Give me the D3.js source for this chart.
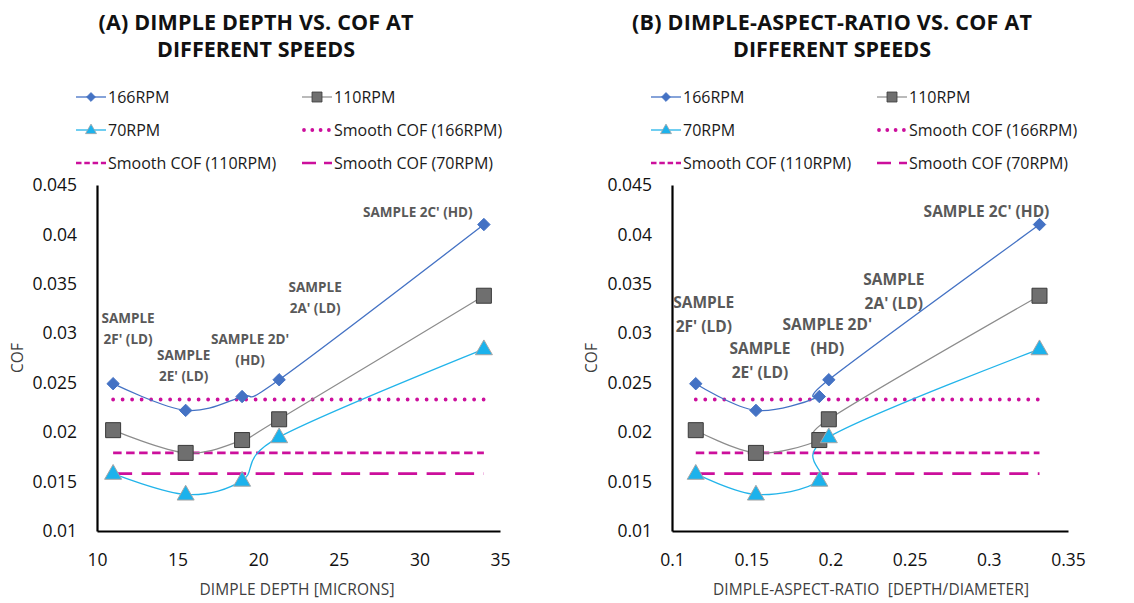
<!DOCTYPE html>
<html>
<head>
<meta charset="utf-8">
<script src="https://cdn.jsdelivr.net/npm/d3@7/dist/d3.min.js"></script>
<style>
  html, body { margin: 0; padding: 0; background: #fff; }
  svg { display: block; font-family: "Open Sans", "Noto Sans", sans-serif; }
</style>
</head>
<body>
<svg id="chart" width="1134" height="603"></svg>
<script>
// ---- data ----
const dimpleDepth = [11.0, 15.5, 19.0, 21.3, 34.0];          // microns
const aspectRatio = [0.115, 0.153, 0.193, 0.199, 0.332];      // depth / diameter
const cof166 = [0.0249, 0.0222, 0.0236, 0.0253, 0.0410];
const cof110 = [0.0202, 0.0179, 0.0192, 0.0213, 0.0338];
const cof70  = [0.0158, 0.0137, 0.0151, 0.0195, 0.0284];
const smoothCof166 = 0.0233;
const smoothCof110 = 0.0179;
const smoothCof70  = 0.0158;
const sampleNames = [["SAMPLE", "2F' (LD)"], ["SAMPLE", "2E' (LD)"], ["SAMPLE 2D'", "(HD)"], ["SAMPLE", "2A' (LD)"], ["SAMPLE 2C' (HD)"]];
const cofTicks = [0.01, 0.015, 0.02, 0.025, 0.03, 0.035, 0.04, 0.045];
const depthTicks = [10, 15, 20, 25, 30, 35];
const ratioTicks = [0.1, 0.15, 0.2, 0.25, 0.3, 0.35];
const legendNames = ["166RPM", "110RPM", "70RPM", "Smooth COF (166RPM)", "Smooth COF (110RPM)", "Smooth COF (70RPM)"];

// ---- styles ----
const MAGENTA = "#cc0f9c";
const seriesStyle = [
  { values: cof166, stroke: "#4472c4", width: 1.3, marker: "diamond", fill: "#4472c4", mstroke: "#4472c4" },
  { values: cof110, stroke: "#8c8c8c", width: 1.2, marker: "square", fill: "#6f6f6f", mstroke: "#3a3a3a" },
  { values: cof70,  stroke: "#22b4ea", width: 1.3, marker: "triangle", fill: "#1cb2ec", mstroke: "#a6a6a6" }
];
const smoothStyle = [
  { value: smoothCof166, dash: "0 9.5", width: 3.8, cap: "round" },
  { value: smoothCof110, dash: "8.5 4.5", width: 2.6, cap: "butt" },
  { value: smoothCof70,  dash: "19 9.5", width: 2.6, cap: "butt" }
];

const panels = [
  {
    title: ["(A) DIMPLE DEPTH VS. COF AT", "DIFFERENT SPEEDS"],
    titleX: 256, titleW: [315, 198],
    xs: dimpleDepth, xDomain: [10, 35], xTicks: depthTicks, xFmt: d => d,
    left: 97, right: 500,
    xTitle: "DIMPLE DEPTH [MICRONS]", xTitleX: 297, xTitleW: 195,
    cofX: 17.5,
    legendCols: [76, 302],
    labelSize: 13.5, labelGap: 21,
    labelOffsets: [[15, -66], [-2, -55], [8, -57], [36, -93], [-66, -12]]
  },
  {
    title: ["(B) DIMPLE-ASPECT-RATIO VS. COF AT", "DIFFERENT SPEEDS"],
    titleX: 832, titleW: [400, 198],
    xs: aspectRatio, xDomain: [0.1, 0.35], xTicks: ratioTicks, xFmt: d => d3.format("")(d),
    left: 672, right: 1068,
    xTitle: "DIMPLE-ASPECT-RATIO\u00a0\u00a0[DEPTH/DIAMETER]", xTitleX: 871, xTitleW: 316,
    cofX: 592,
    legendCols: [651, 877],
    labelSize: 15.5, labelGap: 24,
    labelOffsets: [[8, -81], [4, -62], [8, -72], [65, -100], [-53, -13]]
  }
];

const TOP = 185, BOTTOM = 531;
const svg = d3.select("#chart");
svg.append("rect").attr("width", 1134).attr("height", 603).attr("fill", "#fff");

function markerPath(type, s) {
  if (type === "diamond") return d3.symbol(d3.symbolDiamond2, s * s * 0.5)();
  if (type === "square") return `M${-s/2},${-s/2}H${s/2}V${s/2}H${-s/2}Z`;
  const h = s * 0.87;
  return `M0,${-h*0.62}L${s/2},${h*0.38}L${-s/2},${h*0.38}Z`;
}

panels.forEach(p => {
  const g = svg.append("g");
  const x = d3.scaleLinear().domain(p.xDomain).range([p.left, p.right]);
  const y = d3.scaleLinear().domain([0.01, 0.045]).range([BOTTOM, TOP]);

  // title
  p.title.forEach((t, i) => {
    g.append("text").attr("x", p.titleX).attr("y", i === 0 ? 30 : 57)
      .attr("text-anchor", "middle").attr("font-weight", 700).attr("font-size", 21.5)
      .attr("fill", "#111").attr("textLength", p.titleW[i]).attr("lengthAdjust", "spacing")
      .text(t);
  });

  // legend
  const rows = [97, 130, 163];
  const legendItems = [
    { col: 0, row: 0, s: seriesStyle[0] }, { col: 1, row: 0, s: seriesStyle[1] },
    { col: 0, row: 1, s: seriesStyle[2] }, { col: 1, row: 1, sm: smoothStyle[0] },
    { col: 0, row: 2, sm: smoothStyle[1] }, { col: 1, row: 2, sm: smoothStyle[2] }
  ];
  legendItems.forEach((it, i) => {
    const lx = p.legendCols[it.col], ly = rows[it.row];
    if (it.s) {
      g.append("line").attr("x1", lx).attr("x2", lx + 30).attr("y1", ly).attr("y2", ly)
        .attr("stroke", it.s.stroke).attr("stroke-width", it.s.width);
      g.append("path").attr("d", markerPath(it.s.marker, it.s.marker === "triangle" ? 11 : 10))
        .attr("transform", `translate(${lx + 15},${ly})`)
        .attr("fill", it.s.fill).attr("stroke", it.s.mstroke).attr("stroke-width", 0.8);
    } else {
      g.append("line").attr("x1", lx + (it.sm.cap === "round" ? 2 : 0)).attr("x2", lx + 30).attr("y1", ly).attr("y2", ly)
        .attr("stroke", MAGENTA).attr("stroke-width", it.sm.width)
        .attr("stroke-dasharray", it.sm.cap === "round" ? "0 8.3" : (it.sm === smoothStyle[2] ? "14 8" : "5.5 2.8"))
        .attr("stroke-linecap", it.sm.cap);
    }
    g.append("text").attr("x", lx + 32).attr("y", ly + 5.8).attr("font-size", 16)
      .attr("fill", "#1a1a1a").text(legendNames[i]);
  });

  // axes
  const yAxis = d3.axisLeft(y).tickValues(cofTicks).tickSize(0).tickPadding(20).tickFormat(d3.format(""));
  const ya = g.append("g").attr("transform", `translate(${p.left},0)`).call(yAxis);
  const xAxis = d3.axisBottom(x).tickValues(p.xTicks).tickSize(0).tickPadding(23).tickFormat(p.xFmt);
  const xa = g.append("g").attr("transform", `translate(0,${BOTTOM})`).call(xAxis);
  [ya, xa].forEach(a => {
    a.select(".domain").attr("stroke", "#000").attr("stroke-width", 2.2);
    a.selectAll("text").attr("font-size", 17.5).attr("fill", "#111").attr("font-family", "'Open Sans', sans-serif");
  });

  // axis titles
  g.append("text").attr("x", p.xTitleX).attr("y", 595).attr("text-anchor", "middle")
    .attr("font-size", 15.5).attr("fill", "#404040").attr("textLength", p.xTitleW).attr("lengthAdjust", "spacing")
    .text(p.xTitle);
  g.append("text").attr("transform", `translate(${p.cofX + 5},358) rotate(-90)`).attr("text-anchor", "middle")
    .attr("font-size", 15.5).attr("fill", "#404040").text("COF");

  // smooth COF reference lines across the sampled range
  smoothStyle.forEach(sm => {
    const pts = p.xs.map(v => [x(v), y(sm.value)]);
    g.append("path").attr("d", d3.line()(pts)).attr("fill", "none")
      .attr("stroke", MAGENTA).attr("stroke-width", sm.width)
      .attr("stroke-dasharray", sm.dash).attr("stroke-linecap", sm.cap);
  });

  // smoothed series lines
  const curve = d3.line().curve(d3.curveCardinal.tension(0));
  seriesStyle.forEach(s => {
    const pts = p.xs.map((v, i) => [x(v), y(s.values[i])]);
    g.append("path").attr("d", curve(pts)).attr("fill", "none")
      .attr("stroke", s.stroke).attr("stroke-width", s.width);
  });

  // markers
  seriesStyle.forEach(s => {
    const size = s.marker === "diamond" ? 14 : (s.marker === "square" ? 15 : 17);
    g.append("g").selectAll("path").data(p.xs).join("path")
      .attr("d", markerPath(s.marker, size))
      .attr("transform", (v, i) => `translate(${x(v)},${y(s.values[i])})`)
      .attr("fill", s.fill).attr("stroke", s.mstroke).attr("stroke-width", 1);
  });

  // sample labels anchored to the 166RPM points
  p.xs.forEach((v, i) => {
    const [dx, dy] = p.labelOffsets[i];
    const cx = x(v) + dx, cy = y(cof166[i]) + dy;
    sampleNames[i].forEach((line, j) => {
      g.append("text").attr("x", cx).attr("y", cy + j * p.labelGap).attr("dy", "0.36em")
        .attr("text-anchor", "middle").attr("font-weight", 700).attr("font-size", p.labelSize)
        .attr("fill", "#595959").text(line);
    });
  });
});
</script>
</body>
</html>
